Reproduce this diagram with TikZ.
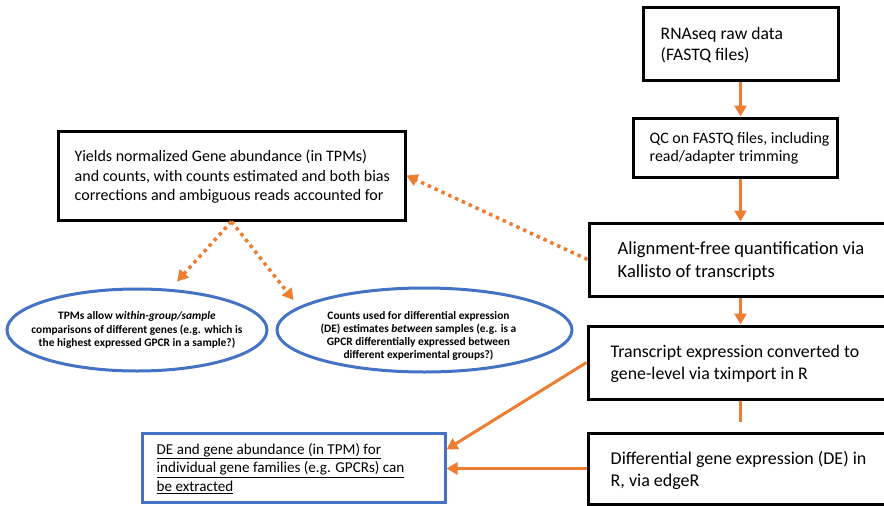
\documentclass[tikz,border=0pt]{standalone}
\usepackage{fontspec}
\setmainfont{Carlito}
\usetikzlibrary{shapes.geometric,arrows.meta,calc}
\definecolor{ora}{HTML}{ED7D31}
\definecolor{blu}{HTML}{4472C4}
\tikzset{
  blackbox/.style={draw=black, line width=3pt, rectangle, inner sep=0pt, fill=white},
  bluebox/.style={draw=blu, line width=3pt, rectangle, inner sep=0pt},
  blueell/.style={draw=blu, line width=3pt, ellipse, inner sep=0pt},
  txt/.style={inner sep=0pt, align=left, anchor=west},
  etxt/.style={inner sep=0pt, align=center, font=\fontsize{11.4}{13.3}\selectfont\bfseries},
  solidarrow/.style={draw=ora, line width=3pt, -{Triangle[length=11pt,width=12pt]}},
  solidline/.style={draw=ora, line width=3pt},
  dotarrow/.style={draw=ora, line width=3.5pt, dash pattern=on 3.5pt off 4pt, -{Triangle[length=11pt,width=12pt]}},
}
\begin{document}
\begin{tikzpicture}[x=1pt,y=-1pt]
\useasboundingbox (0,0) rectangle (884,506);
\clip (0,0) rectangle (884,506);
% right column boxes
\node[blackbox, minimum width=195, minimum height=73] (raw) at (740.5,43.5) {};
\node[blackbox, minimum width=204, minimum height=59] (qc) at (735,147.5) {};
\node[blackbox, minimum width=303, minimum height=73] (align) at (740.5,259.5) {};
\node[blackbox, minimum width=304, minimum height=73] (trans) at (740,362.5) {};
\node[blackbox, minimum width=304, minimum height=71] (diff) at (740,468.5) {};
% left boxes
\node[blackbox, minimum width=347, minimum height=89] (yields) at (231.5,175.5) {};
\node[blueell, minimum width=260, minimum height=82] (tpm) at (137,330) {};
\node[blueell, minimum width=295, minimum height=84] (counts) at (424.5,330) {};
\node[bluebox, minimum width=303, minimum height=69] (de) at (293.5,467.5) {};
% texts
\node[txt, font=\fontsize{17.6}{20.5}\selectfont] (rawt) at ([xshift=19pt,yshift=-1.5pt]raw.west) {RNAseq raw data\\(FASTQ files)};
\node[txt, font=\fontsize{15.9}{18.5}\selectfont] (qct) at ([xshift=18pt,yshift=-1pt]qc.west) {QC on FASTQ files, including\\read/adapter trimming};
\node[txt, font=\fontsize{18.5}{23}\selectfont] (alignt) at ([xshift=30pt,yshift=-2pt]align.west) {Alignment-free quantification via\\Kallisto of transcripts};
\node[txt, font=\fontsize{17.8}{22}\selectfont] (transt) at ([xshift=24pt,yshift=-1.5pt]trans.west) {Transcript expression converted to\\gene-level via tximport in R};
\node[txt, font=\fontsize{18}{22}\selectfont] (difft) at ([xshift=24pt,yshift=-1.5pt]diff.west) {Differential gene expression (DE) in\\R, via edgeR};
\node[txt, font=\fontsize{16}{19.5}\selectfont] (yieldst) at ([xshift=18pt,yshift=-1.5pt]yields.west) {Yields normalized Gene abundance (in TPMs)\\and counts, with counts estimated and both bias\\corrections and ambiguous reads accounted for};
\node[etxt] (tpmt) at (tpm) {TPMs allow \textit{within-group/sample}\\comparisons of different genes (e.g. which is\\the highest expressed GPCR in a sample?)};
\node[etxt] (countst) at ([xshift=-6pt,yshift=-6pt]counts.center) {Counts used for differential expression\\(DE) estimates \textit{between} samples (e.g. is a\\GPCR differentially expressed between\\different experimental groups?)};
\node[txt, font=\fontsize{15.1}{18.5}\selectfont] (det) at ([xshift=16pt,yshift=-1pt]de.west) {\underline{DE and gene abundance (in TPM) for}\\\underline{individual gene families (e.g. GPCRs) can}\\\underline{be extracted}};
% connectors
\coordinate (spine) at (740.5,0);
\coordinate (stub) at (740.5,422);
\draw[solidarrow] (raw.south -| spine) -- (qc.north -| spine);
\draw[solidarrow] (qc.south -| spine) -- (align.north -| spine);
\draw[solidarrow] (align.south -| spine) -- (trans.north -| spine);
\draw[solidline] (trans.south -| spine) -- (stub);
\draw[solidarrow] (trans.west) -- ($(de.north east)!0.25!(de.south east)$);
\draw[solidarrow] (diff.west) -- (diff.west -| de.east);
\draw[dotarrow] (align.west) -- (yields.east);
\coordinate (tpmtip) at ($(tpm.north)+(40,-6)$);
\coordinate (counttip) at ($(counts.west)+(18,-30)$);
\draw[dotarrow] (yields.south) -- (tpmtip);
\draw[dotarrow] (yields.south) -- (counttip);
\end{tikzpicture}
\end{document}
